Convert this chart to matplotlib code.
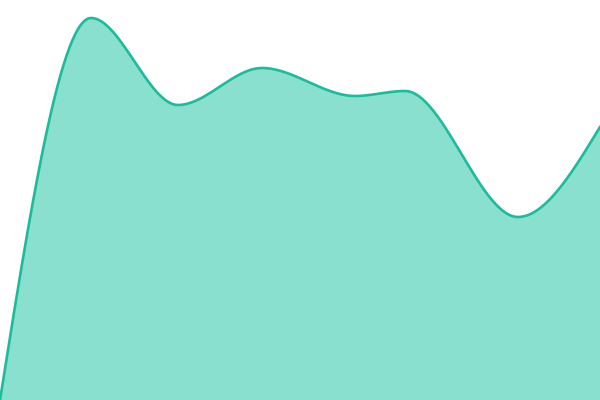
import matplotlib
matplotlib.use("Agg")
import matplotlib.pyplot as plt
import numpy as np

# punten van de curve (x positie, waarde)
xs = [0, 91, 178, 262, 355, 405, 518, 600]
vals = [0, 382, 295, 332, 304, 309, 183, 273]

line_kleur = "#1abc9c"
vul_kleur = "#8ae0cf"


def monotone(x, y, n=60):
    # monotone cubic (zoals d3 curveMonotoneX)
    x = np.asarray(x, float)
    y = np.asarray(y, float)
    h = np.diff(x)
    s = np.diff(y) / h
    m = np.zeros(len(x))
    for i in range(1, len(x) - 1):
        p = (s[i - 1] * h[i] + s[i] * h[i - 1]) / (h[i - 1] + h[i])
        m[i] = (np.sign(s[i - 1]) + np.sign(s[i])) * min(abs(s[i - 1]), abs(s[i]), 0.5 * abs(p))
    m[0] = (3 * s[0] - m[1]) / 2
    m[-1] = (3 * s[-1] - m[-2]) / 2
    px, py = [], []
    for i in range(len(x) - 1):
        t = np.linspace(0, 1, n)
        h00 = 2 * t**3 - 3 * t**2 + 1
        h10 = t**3 - 2 * t**2 + t
        h01 = -2 * t**3 + 3 * t**2
        h11 = t**3 - t**2
        px.extend(x[i] + t * h[i])
        py.extend(h00 * y[i] + h10 * h[i] * m[i] + h01 * y[i + 1] + h11 * h[i] * m[i + 1])
    return np.array(px), np.array(py)


cx, cy = monotone(xs, vals)

fig = plt.figure(figsize=(6, 4), dpi=100)
ax = fig.add_axes([0, 0, 1, 1])
ax.fill_between(cx, 0, cy, color=vul_kleur, lw=0)
ax.plot(cx, cy, color=line_kleur, lw=1.9)
ax.set_xlim(0, 600)
ax.set_ylim(0, 400)
ax.axis("off")
fig.savefig("out.png", dpi=100)
